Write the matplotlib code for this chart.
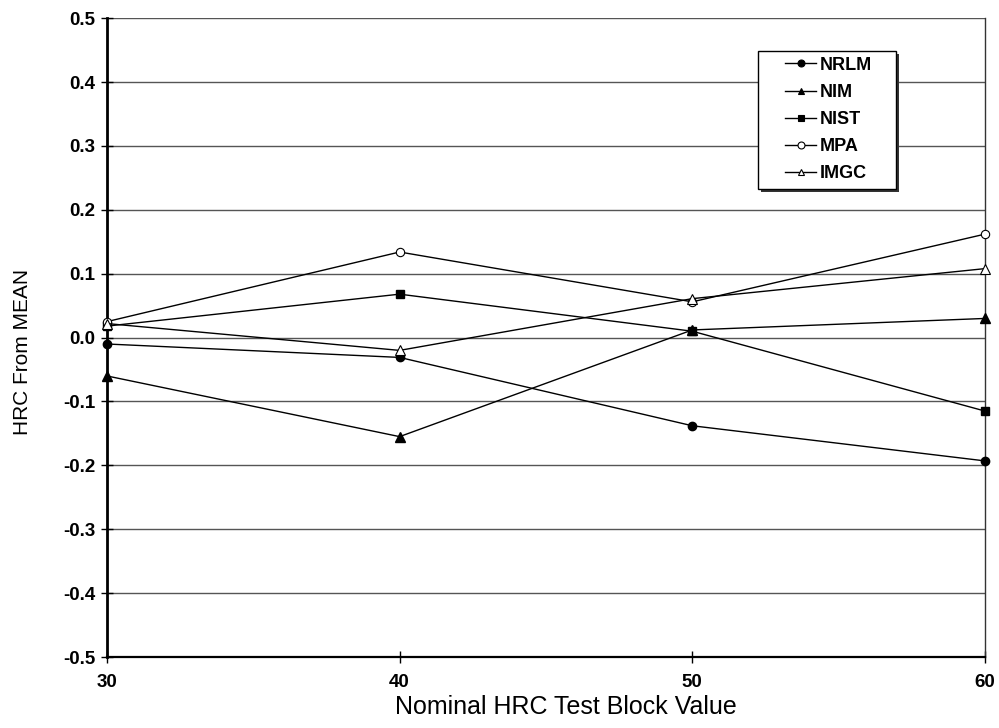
import matplotlib.pyplot as plt
from matplotlib.patches import Rectangle

plt.rcParams['font.family'] = ['Liberation Sans', 'DejaVu Sans']

hrc = [30, 40, 50, 60]
nrlm = [-0.010, -0.031, -0.138, -0.193]
nim = [-0.060, -0.155, 0.012, 0.030]
nist = [0.018, 0.068, 0.010, -0.115]
mpa = [0.025, 0.134, 0.056, 0.162]
imgc = [0.022, -0.020, 0.061, 0.108]

fig = plt.figure(figsize=(9.99, 7.28), dpi=100)
ax = fig.add_axes([0.107, 0.0975, 0.879, 0.8775])

kw = dict(color='black', lw=1, clip_on=False, zorder=3)
ax.plot(hrc, nrlm, marker='o', ms=6, label='NRLM', **kw)
ax.plot(hrc, nim, marker='^', ms=6.5, label='NIM', **kw)
ax.plot(hrc, nist, marker='s', ms=5.5, label='NIST', **kw)
ax.plot(hrc, mpa, marker='o', ms=6, mfc='white', mew=0.8, label='MPA', **kw)
ax.plot(hrc, imgc, marker='^', ms=7, mfc='white', mew=0.8, label='IMGC', **kw)

ax.set_xlim(30, 60)
ax.set_ylim(-0.5, 0.5)
ax.set_xticks([30, 40, 50, 60])
ax.set_yticks([i / 10 for i in range(-5, 6)])
ax.set_yticklabels(['%.1f' % (i / 10) for i in range(-5, 6)])
ax.yaxis.grid(True, color='#555555', lw=1)
ax.set_axisbelow(True)
ax.tick_params(labelsize=13.5, length=9, width=1, direction='inout', pad=4)
ax.tick_params(axis='x', pad=8)
for lab in ax.get_xticklabels() + ax.get_yticklabels():
    lab.set_fontweight('bold')

ax.spines['top'].set_visible(False)
ax.spines['right'].set_color('#333333')
ax.spines['right'].set_linewidth(1)
ax.spines['left'].set_linewidth(2)
ax.spines['bottom'].set_linewidth(1.6)

ax.set_xlabel('Nominal HRC Test Block Value', fontsize=18)
ax.set_ylabel('HRC From MEAN', fontsize=15)
ax.xaxis.set_label_coords(0.523, -0.06)
ax.yaxis.set_label_coords(-0.085, 0.477)

# legend box with drop shadow
ax.add_patch(Rectangle((0.7615, 0.7359), 0.1385, 0.1896,
                       transform=fig.transFigure, facecolor='#333333',
                       edgecolor='none', zorder=4, clip_on=False))
ax.add_patch(Rectangle((0.7585, 0.7404), 0.1385, 0.1896,
                       transform=fig.transFigure, facecolor='white',
                       edgecolor='black', lw=1, zorder=5, clip_on=False))
leg = ax.legend(loc='upper left', bbox_to_anchor=(0.777, 0.9345),
                bbox_transform=fig.transFigure, frameon=False,
                handlelength=1.7, labelspacing=0.56, borderpad=0,
                handletextpad=0.2, prop={'weight': 'bold', 'size': 13})
leg.set_zorder(6)
for h in leg.get_lines():
    h.set_markersize(5)
    h.set_markeredgewidth(0.8)

fig.savefig('out.png', dpi=100)
